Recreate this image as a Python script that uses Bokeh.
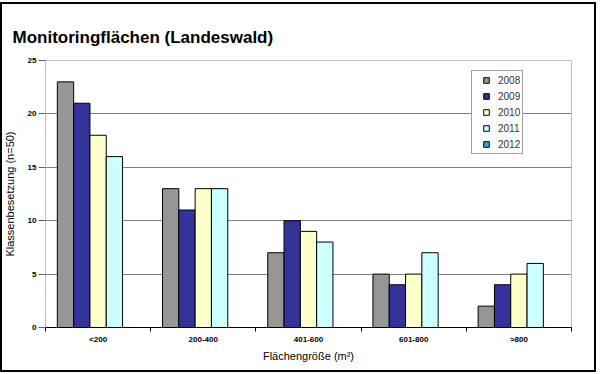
from bokeh.plotting import figure
from bokeh.models import ColumnDataSource, FixedTicker, Legend, LegendItem
from bokeh.transform import dodge
from bokeh.embed import file_html
from bokeh.resources import INLINE

categories = ["<200", "200-400", "401-600", "601-800", ">800"]
years = ["2008", "2009", "2010", "2011", "2012"]
v2008 = [23, 13, 7, 5, 2]
v2009 = [21, 11, 10, 4, 4]
v2010 = [18, 13, 9, 5, 5]
v2011 = [16, 13, 8, 7, 6]
v2012 = [0, 0, 0, 0, 0]
y_ticks = [0, 5, 10, 15, 20, 25]
colors = ["#969696", "#333399", "#FFFFCC", "#CCFFFF", "#33A9CC"]

series = [v2008, v2009, v2010, v2011, v2012]
n = len(categories)
xc = list(range(n))
bounds = [i - 0.5 for i in range(n + 1)]

data = {"x": xc}
for y, v in zip(years, series):
    data["y" + y] = v
src = ColumnDataSource(data)

FONT = "Liberation Sans"

p = figure(width=596, height=370, x_range=(-0.5, n - 0.5), y_range=(0, 25),
           output_backend="svg", toolbar_location=None,
           min_border_left=42, min_border_right=25, min_border_top=58, min_border_bottom=45,
           background_fill_color="white", border_fill_color=None,
           outline_line_color="#c0c0c0",
           styles={"margin-left": "0px", "margin-top": "2px",
                   "outline": "2px solid black", "outline-offset": "-2px"})

p.title.text = "Monitoringflächen (Landeswald)"
p.title.text_font = FONT
p.title.text_font_size = "17px"
p.title.text_font_style = "bold"
p.title.text_color = "black"
p.title.align = "left"
p.title.offset = -33
p.title.standoff = 27

bw = 0.155
items = []
for k, (y, c) in enumerate(zip(years, colors)):
    p.vbar(x=dodge("x", (k - 2) * bw), top="y" + y, width=bw, source=src,
           fill_color=c, line_color="black", line_width=1)
    sw = p.scatter(x="x", y="y" + y, source=src, marker="square",
                   fill_color=c, line_color="black", line_width=1, visible=False)
    items.append(LegendItem(label=y, renderers=[sw]))

legend = Legend(items=items, location=(426, 173), margin=0, padding=2, spacing=2,
                glyph_width=24, glyph_height=14, label_height=14, label_width=11,
                label_standoff=0, label_text_font=FONT, label_text_font_size="10px",
                label_text_color="#333333", border_line_color="#404040", border_line_width=1,
                background_fill_color="white", background_fill_alpha=1)
p.add_layout(legend)

p.xgrid.visible = False
p.ygrid.ticker = FixedTicker(ticks=y_ticks[1:-1])
p.ygrid.grid_line_color = "#808080"

ya = p.yaxis[0]
ya.ticker = FixedTicker(ticks=y_ticks)
ya.axis_line_color = "#c0c0c0"
ya.major_tick_line_color = "#606060"
ya.major_tick_out = 7
ya.major_tick_in = 0
ya.minor_tick_line_color = None
ya.major_label_standoff = 2
ya.major_label_text_font = FONT
ya.major_label_text_font_size = "8px"
ya.major_label_text_font_style = "bold"
ya.major_label_text_color = "black"
ya.axis_label = "Klassenbesetzung (n=50)"
ya.axis_label_text_font = FONT
ya.axis_label_text_font_size = "11px"
ya.axis_label_text_font_style = "normal"
ya.axis_label_text_color = "black"
ya.axis_label_standoff = 9

xa = p.xaxis[0]
xa.ticker = FixedTicker(ticks=xc, minor_ticks=bounds)
xa.major_label_overrides = {i: c for i, c in zip(xc, categories)}
xa.major_tick_in = 0
xa.major_tick_out = 0
xa.minor_tick_in = 0
xa.minor_tick_out = 4
xa.minor_tick_line_color = "black"
xa.axis_line_color = "black"
xa.major_label_standoff = 3
xa.major_label_text_font = FONT
xa.major_label_text_font_size = "8px"
xa.major_label_text_font_style = "bold"
xa.major_label_text_color = "black"
xa.axis_label = "Flächengröße (m²)"
xa.axis_label_text_font = FONT
xa.axis_label_text_font_size = "11px"
xa.axis_label_text_font_style = "normal"
xa.axis_label_text_color = "black"
xa.axis_label_standoff = 3

open("out.html", "w").write(file_html(p, INLINE))
